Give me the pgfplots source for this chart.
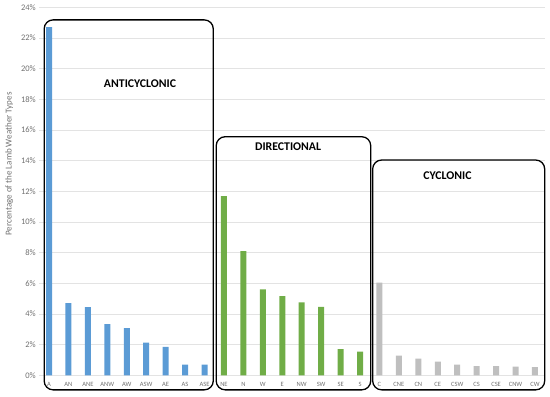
\documentclass[border=0pt]{standalone}
\usepackage{pgfplots}
\pgfplotsset{compat=1.18}
\usepackage{fontspec}
\setmainfont{Carlito}
\definecolor{cblue}{HTML}{5B9BD5}
\definecolor{cgreen}{HTML}{70AD47}
\definecolor{cgray}{HTML}{BFBFBF}
\definecolor{tickgray}{HTML}{707070}
\definecolor{gridgray}{HTML}{E3E3E3}
\begin{document}
\begin{tikzpicture}
\begin{axis}[
  scale only axis,
  width=505.4pt, height=368pt,
  xmin=-0.5, xmax=25.5,
  ymin=0, ymax=24,
  ytick={0,2,...,24},
  yticklabel={\pgfmathprintnumber{\tick}\%},
  /pgf/number format/assume math mode=true,
  yticklabel style={font=\fontsize{8.5}{9}\selectfont, text=tickgray},
  xtick={0,...,25},
  xticklabels={A,AN,ANE,ANW,AW,ASW,AE,AS,ASE,NE,N,W,E,NW,SW,SE,S,C,CNE,CN,CE,CSW,CS,CSE,CNW,CW},
  xticklabel style={font=\fontsize{6.5}{7}\selectfont, text=tickgray, yshift=1pt},
  tick style={draw=none},
  axis line style={draw=none},
  ymajorgrids,
  major grid style={draw=gridgray, line width=0.8pt},
  ylabel={Percentage of the Lamb Weather Types},
  every axis y label/.style={at={([xshift=-30pt]axis description cs:0,0.574)}, rotate=90, anchor=center, font=\fontsize{9}{10}\selectfont, text=tickgray},
  ybar, bar width=6pt, bar shift=0pt,
  clip=false,
]
\addplot[fill=cblue, draw=none] coordinates {
(0,22.7) (1,4.7) (2,4.45) (3,3.33) (4,3.07) (5,2.13) (6,1.85) (7,0.7) (8,0.7)};
\addplot[fill=cgreen, draw=none] coordinates {
(9,11.68) (10,8.1) (11,5.6) (12,5.17) (13,4.76) (14,4.46) (15,1.7) (16,1.55)};
\addplot[fill=cgray, draw=none] coordinates {
(17,6.05) (18,1.28) (19,1.09) (20,0.89) (21,0.7) (22,0.6) (23,0.6) (24,0.57) (25,0.54)};
\draw[black, line width=1.3pt, rounded corners=9pt] (axis cs:-0.25,-0.95) rectangle (axis cs:8.45,23.18);
\draw[black, line width=1.3pt, rounded corners=9pt] (axis cs:8.6,-0.95) rectangle (axis cs:16.55,15.56);
\draw[black, line width=1.3pt, rounded corners=9pt] (axis cs:16.65,-0.95) rectangle (axis cs:25.5,14.04);
\node[font=\bfseries\fontsize{11.8}{13}\selectfont] at (axis cs:4.68,19.0) {ANTICYCLONIC};
\node[font=\bfseries\fontsize{11.8}{13}\selectfont] at (axis cs:12.3,14.9) {DIRECTIONAL};
\node[font=\bfseries\fontsize{11.8}{13}\selectfont] at (axis cs:20.5,13.0) {CYCLONIC};
\coordinate (O) at (rel axis cs:0,0);
\coordinate (T) at (rel axis cs:1,1);
\end{axis}
\pgfresetboundingbox
\path[use as bounding box] ([shift={(-39.3pt,-20.7pt)}]O) rectangle ([shift={(5.3pt,7.3pt)}]T);
\end{tikzpicture}
\end{document}
